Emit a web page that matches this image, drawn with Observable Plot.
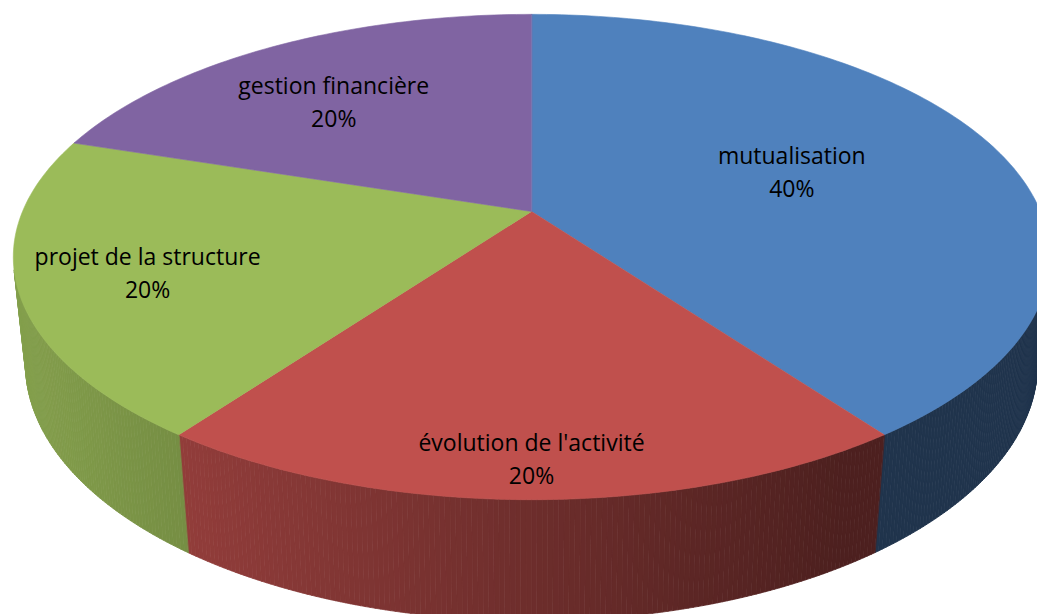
<!DOCTYPE html>
<html><head><meta charset="utf-8">
<script src="https://cdn.jsdelivr.net/npm/d3@7"></script>
<script src="https://cdn.jsdelivr.net/npm/@observablehq/plot@0.6"></script>
<style>html,body{margin:0;padding:0;background:#fff;overflow:hidden}#chart svg{display:block}</style>
</head><body><div id="chart"></div>
<script>
// ---- data ----
const categories = ["mutualisation", "évolution de l'activité", "projet de la structure", "gestion financière"];
const values = [40, 20, 20, 20];
const colors = ["#4F81BD", "#C0504D", "#9BBB59", "#8064A2"];
// label placement (radius fraction and angle nudge, in pie space)
const labelRadius = [0.555, 0.884, 0.762, 0.662];
const labelAngleShift = [0, 0, -1.5, -4];

// ---- 3D perspective layout ----
const W = 1037, H = 614;
const cx = 531, cy = 211, f = 2409, d0 = 4.733, sinA = 0.46, cosA = Math.sqrt(1 - sinA * sinA), depth = 0.2387;
function proj(theta, r, Y) { // theta: degrees clockwise from back (12 o'clock)
  const t = theta * Math.PI / 180;
  const u = r * Math.sin(t), v = -r * Math.cos(t);
  const d = d0 - Y * sinA - v * cosA;
  return [cx + f * u / d, cy - f * (Y * cosA - v * sinA) / d];
}
const total = d3.sum(values);
let acc = 0;
const slices = values.map((v, i) => {
  const a0 = acc / total * 360; acc += v; const a1 = acc / total * 360;
  return {i, a0, a1, cat: categories[i], color: colors[i], pct: Math.round(v / total * 100)};
});

// top faces
const topPts = [];
for (const s of slices) {
  const c = proj(0, 0, 0);
  topPts.push({id: "t" + s.i, x: c[0], y: c[1], color: s.color});
  const n = Math.ceil(s.a1 - s.a0);
  for (let k = 0; k <= n; k++) {
    const a = s.a0 + (s.a1 - s.a0) * k / n;
    const p = proj(a, 1, 0);
    topPts.push({id: "t" + s.i, x: p[0], y: p[1], color: s.color});
  }
}

// outer walls (front-facing part only), shaded facets
const frontMin = 180 - Math.acos(1 / (d0 * cosA)) * 180 / Math.PI;
const frontMax = 360 - frontMin;
function shade(base, x) {
  const k = Math.max(0.40, Math.min(0.85, 0.74 - 0.00054 * (x - 215)));
  const c = d3.rgb(base);
  return d3.rgb(c.r * k, c.g * k, c.b * k).formatHex();
}
const wallPts = [];
let fid = 0;
for (const s of slices) {
  const lo = Math.max(s.a0, frontMin), hi = Math.min(s.a1, frontMax);
  if (hi <= lo) continue;
  const n = Math.ceil((hi - lo) / 0.5);
  for (let k = 0; k < n; k++) {
    const b0 = lo + (hi - lo) * k / n, b1 = lo + (hi - lo) * (k + 1) / n;
    const q = [proj(b0, 1, 0), proj(b1, 1, 0), proj(b1, 1, -depth), proj(b0, 1, -depth)];
    const col = shade(s.color, (q[0][0] + q[1][0]) / 2);
    for (const p of q) wallPts.push({id: "w" + fid, x: p[0], y: p[1], color: col});
    fid++;
  }
}

// labels
const labels = slices.map(s => {
  const p = proj((s.a0 + s.a1) / 2 + labelAngleShift[s.i], labelRadius[s.i], 0);
  return {x: p[0], y: p[1], text: `${s.cat}\n${s.pct}%`};
});

const chart = Plot.plot({
  width: W, height: H, margin: 0,
  x: {domain: [0, W], range: [0, W], axis: null},
  y: {domain: [0, H], range: [0, H], axis: null},
  color: {type: "identity"},
  style: {background: "#ffffff"},
  marks: [
    Plot.line(wallPts, {x: "x", y: "y", z: "id", fill: "color", stroke: "color", strokeWidth: 0.8, curve: "linear-closed", clip: true}),
    Plot.line(topPts, {x: "x", y: "y", z: "id", fill: "color", stroke: "color", strokeWidth: 0.6, curve: "linear-closed", clip: true}),
    Plot.text(labels, {x: "x", y: "y", dy: -3, text: "text", fontSize: 23, lineHeight: 1.44, fill: "#000", fontFamily: "'Open Sans', sans-serif"})
  ]
});
document.getElementById("chart").appendChild(chart);
</script>
</body></html>
